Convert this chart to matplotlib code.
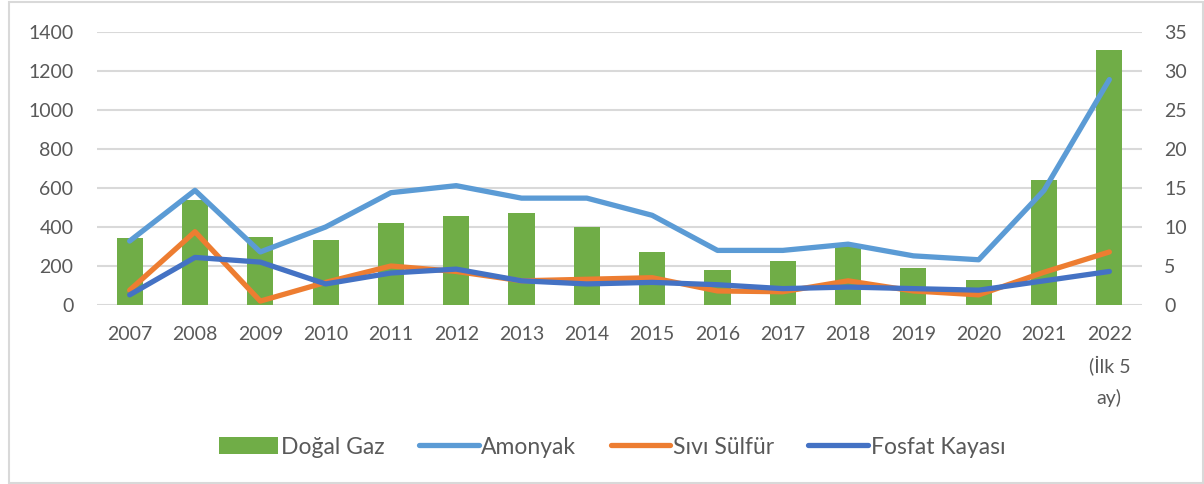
import numpy as np
import matplotlib.pyplot as plt
from matplotlib.patches import Rectangle

years = ["2007", "2008", "2009", "2010", "2011", "2012", "2013", "2014",
         "2015", "2016", "2017", "2018", "2019", "2020", "2021", "2022\n(İlk 5\nay)"]
dogal_gaz = [343, 538, 349, 333, 420, 456, 473, 400, 272, 180, 226, 308, 191, 128, 643, 1308]
amonyak = [8.2, 14.7, 6.8, 10.0, 14.4, 15.3, 13.7, 13.7, 11.5, 7.0, 7.0, 7.8, 6.3, 5.8, 14.7, 28.9]
sivi_sulfur = [1.9, 9.4, 0.5, 2.9, 5.0, 4.3, 3.1, 3.3, 3.5, 1.8, 1.7, 3.1, 1.8, 1.3, 4.2, 6.8]
fosfat = [1.3, 6.1, 5.5, 2.7, 4.1, 4.6, 3.1, 2.7, 2.9, 2.6, 2.1, 2.3, 2.1, 1.9, 3.1, 4.3]

plt.rcParams['font.family'] = ['Lato', 'DejaVu Sans']
txt = "#595959"
grid = "#D9D9D9"

fig = plt.figure(figsize=(12.04, 4.84), dpi=100)
fig.patches.append(Rectangle((9/1204, 1/484), 1194/1204, 481/484, transform=fig.transFigure,
                             fill=False, edgecolor=grid, linewidth=1.5))

ax = fig.add_axes([97/1204, 1 - 305/484, 1045/1204, 273/484])
x = np.arange(len(years))
bars = ax.bar(x, dogal_gaz, width=0.4, color="#70AD47", label="Doğal Gaz", zorder=2)
ax.set_xlim(-0.5, len(years) - 0.5)
ax.set_ylim(0, 1400)
ax.set_yticks(np.arange(0, 1401, 200))
ax.yaxis.grid(True, color=grid, linewidth=1.5, zorder=0)
ax.set_axisbelow(True)
for s in ax.spines.values():
    s.set_visible(False)
ax.set_xticks(x)
ax.set_xticklabels(years, linespacing=1.8)
ax.tick_params(axis='both', length=0, labelsize=14, labelcolor=txt)
ax.tick_params(axis='y', pad=17)
ax.tick_params(axis='x', pad=15)

ax2 = ax.twinx()
ax2.set_ylim(0, 35)
ax2.set_yticks(np.arange(0, 36, 5))
for s in ax2.spines.values():
    s.set_visible(False)
ax2.tick_params(axis='y', length=0, labelsize=14, labelcolor=txt, pad=16)
l1, = ax2.plot(x, amonyak, color="#5B9BD5", lw=3.8, label="Amonyak", solid_capstyle='round')
l2, = ax2.plot(x, sivi_sulfur, color="#ED7D31", lw=3.8, label="Sıvı Sülfür", solid_capstyle='round')
l3, = ax2.plot(x, fosfat, color="#4472C4", lw=3.8, label="Fosfat Kayası", solid_capstyle='round')

leg = fig.legend([bars, l1, l2, l3], ["Doğal Gaz", "Amonyak", "Sıvı Sülfür", "Fosfat Kayası"],
                 loc='center', bbox_to_anchor=(612/1204, 37/484), ncol=4, frameon=False,
                 fontsize=16.5, handlelength=2.6, handleheight=0.7, handletextpad=0.12,
                 columnspacing=1.5)
for t in leg.get_texts():
    t.set_color(txt)

fig.savefig("out.png", dpi=100)
